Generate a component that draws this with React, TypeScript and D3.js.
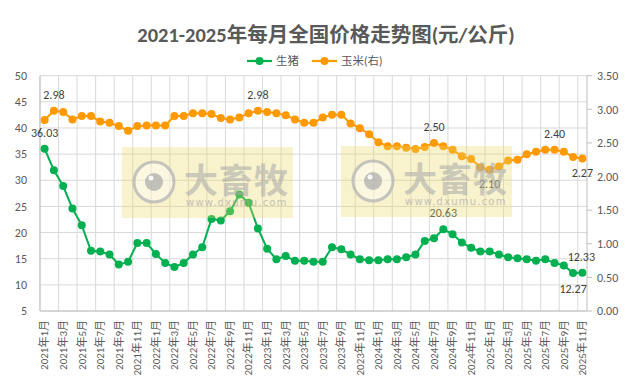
import React from "react";
import * as d3 from "d3";

// 月份
const months: string[] = [];
for (let y = 2021; y <= 2025; y++) {
  for (let m = 1; m <= 12; m++) {
    if (y === 2025 && m > 11) break;
    months.push(`${y}年${m}月`);
  }
}

// 生猪 (元/公斤)
const pig = [
  36.03, 31.9, 28.9, 24.6, 21.4, 16.5, 16.4, 15.8, 13.9, 14.4, 18.0, 18.0,
  15.9, 14.2, 13.4, 14.2, 15.8, 17.2, 22.6, 22.3, 24.1, 27.3, 25.7, 20.8,
  16.9, 14.9, 15.5, 14.6, 14.6, 14.4, 14.4, 17.2, 16.8, 15.8, 14.9, 14.7,
  14.7, 14.9, 14.9, 15.3, 15.8, 18.4, 18.9, 20.63, 19.7, 18.1, 17.1, 16.4,
  16.4, 15.8, 15.3, 15.1, 14.9, 14.6, 14.9, 14.2, 13.7, 12.27, 12.33,
];

// 玉米 (元/公斤, 右轴)
const corn = [
  2.84, 2.98, 2.96, 2.85, 2.9, 2.9, 2.82, 2.8, 2.75, 2.68, 2.75, 2.76,
  2.76, 2.76, 2.9, 2.9, 2.94, 2.94, 2.93, 2.87, 2.85, 2.88, 2.94, 2.98,
  2.96, 2.94, 2.91, 2.85, 2.8, 2.8, 2.88, 2.92, 2.92, 2.79, 2.72, 2.63,
  2.51, 2.45, 2.45, 2.43, 2.41, 2.44, 2.5, 2.45, 2.4, 2.3, 2.26, 2.14,
  2.1, 2.15, 2.24, 2.25, 2.33, 2.37, 2.4, 2.4, 2.37, 2.29, 2.27,
];

const leftTicks = [5, 10, 15, 20, 25, 30, 35, 40, 45, 50];
const rightTicks = [0, 0.5, 1, 1.5, 2, 2.5, 3, 3.5];

// 数据标签: [index, position]
const pigLabels: [number, "above" | "below"][] = [
  [0, "above"],
  [43, "above"],
  [57, "below"],
  [58, "above"],
];
const cornLabels: [number, "above" | "below"][] = [
  [1, "above"],
  [23, "above"],
  [42, "above"],
  [48, "below"],
  [55, "above"],
  [58, "below"],
];

const W = 625;
const H = 392;
const left = 40;
const right = 587;
const top = 75.7;
const bottom = 311;
const GREEN = "#00B050";
const ORANGE = "#FF9900";
const TEXT = "#595959";
const FONT = "Calibri, 'Noto Sans CJK SC', sans-serif";

const Watermark = ({ x, y }: { x: number; y: number }) => (
  <g transform={`translate(${x},${y})`}>
    <rect width={171} height={71} fill="rgb(232,216,100)" opacity={0.32} />
    <circle cx={32} cy={35} r={20} fill="#fff" fillOpacity={0.5} stroke="#b8b8b8" strokeWidth={3} opacity={0.8} />
    <circle cx={32} cy={35} r={9} fill="#a8a8a8" opacity={0.7} />
    <circle cx={29} cy={31} r={2.5} fill="#fff" opacity={0.9} />
    <text x={62} y={46} fontSize={34} fontWeight="bold" fill="#a8a8a8" opacity={0.55} fontFamily="'Noto Sans CJK SC', sans-serif" letterSpacing={1}>
      大畜牧
    </text>
    <text x={64} y={59} fontSize={10} fill="#a8a8a8" opacity={0.65} fontFamily="'DejaVu Sans', sans-serif" letterSpacing={1.2}>
      www.dxumu.com
    </text>
  </g>
);

export default function App() {
  const x = d3.scaleBand<string>().domain(months).range([left, right]);
  const cx = (i: number) => (x(months[i]) as number) + x.bandwidth() / 2;
  const yL = d3.scaleLinear().domain([5, 50]).range([bottom, top]);
  const yR = d3.scaleLinear().domain([0, 3.5]).range([bottom, top]);

  const pigLine = d3
    .line<number>()
    .x((_, i) => cx(i))
    .y((d) => yL(d));
  const cornLine = d3
    .line<number>()
    .x((_, i) => cx(i))
    .y((d) => yR(d));

  const vGrid = months.map((_, i) => i).filter((i) => i % 2 === 0);

  return (
    <svg
      width={W}
      height={H}
      style={{ position: "absolute", left: 0, top: 0, background: "#fff" }}
      fontFamily={FONT}
    >
      <rect width={W} height={H} fill="#fff" />
      <text x={326} y={42} textAnchor="middle" fontSize={20.5} fontWeight="bold" fill={TEXT}>
        2021-2025年每月全国价格走势图(元/公斤)
      </text>

      {/* legend */}
      <g fontSize={11.5} fill={TEXT}>
        <line x1={247} x2={272} y1={61} y2={61} stroke={GREEN} strokeWidth={2.2} />
        <circle cx={259.5} cy={61} r={4} fill={GREEN} />
        <text x={276} y={65}>生猪</text>
        <line x1={312} x2={337} y1={61} y2={61} stroke={ORANGE} strokeWidth={2.2} />
        <circle cx={324.5} cy={61} r={4} fill={ORANGE} />
        <text x={341} y={65}>玉米(右)</text>
      </g>

      {/* grid */}
      <g stroke="#d9d9d9" strokeWidth={1}>
        {leftTicks.map((t) => (
          <line key={t} x1={left} x2={right} y1={yL(t)} y2={yL(t)} />
        ))}
        {vGrid.map((i) => (
          <line key={i} x1={x(months[i])} x2={x(months[i])} y1={top} y2={bottom} />
        ))}
      </g>
      <g stroke="#bfbfbf" strokeWidth={1}>
        <line x1={left} x2={left} y1={top} y2={bottom} />
        <line x1={right} x2={right} y1={top} y2={bottom} />
        <line x1={left} x2={right} y1={bottom} y2={bottom} />
        {rightTicks.map((t) => (
          <line key={t} x1={right} x2={right + 5} y1={yR(t)} y2={yR(t)} />
        ))}
      </g>

      {/* axis labels */}
      <g fontSize={12} fill={TEXT}>
        {leftTicks.map((t) => (
          <text key={t} x={27} y={yL(t)} dy="0.35em" textAnchor="end">
            {t}
          </text>
        ))}
        {rightTicks.map((t) => (
          <text key={t} x={597} y={yR(t)} dy="0.35em">
            {t.toFixed(2)}
          </text>
        ))}
      </g>
      <g fontSize={11} fill={TEXT}>
        {vGrid.map((i) => (
          <text
            key={i}
            transform={`translate(${cx(i)},320) rotate(-90)`}
            textAnchor="end"
            dy="0.35em"
          >
            {months[i]}
          </text>
        ))}
      </g>

      {/* series */}
      <path d={cornLine(corn) ?? ""} fill="none" stroke={ORANGE} strokeWidth={2} />
      {corn.map((d, i) => (
        <circle key={i} cx={cx(i)} cy={yR(d)} r={4} fill={ORANGE} />
      ))}
      <path d={pigLine(pig) ?? ""} fill="none" stroke={GREEN} strokeWidth={2} />
      {pig.map((d, i) => (
        <circle key={i} cx={cx(i)} cy={yL(d)} r={4} fill={GREEN} />
      ))}

      {/* data labels */}
      <g fontSize={12} fill="#404040" textAnchor="middle">
        {pigLabels.map(([i, pos]) => (
          <text key={`p${i}`} x={i === 58 ? cx(i) - 1 : cx(i)} y={yL(pig[i]) + (pos === "above" ? -12 : 16)} dy={pos === "above" ? 0 : "0.35em"}>
            {pig[i].toFixed(2)}
          </text>
        ))}
        {cornLabels.map(([i, pos]) => (
          <text key={`c${i}`} x={cx(i)} y={yR(corn[i]) + (pos === "above" ? -12 : 14)} dy={pos === "above" ? 0 : "0.35em"}>
            {corn[i].toFixed(2)}
          </text>
        ))}
      </g>

      <Watermark x={122} y={147} />
      <Watermark x={341} y={146} />
    </svg>
  );
}
